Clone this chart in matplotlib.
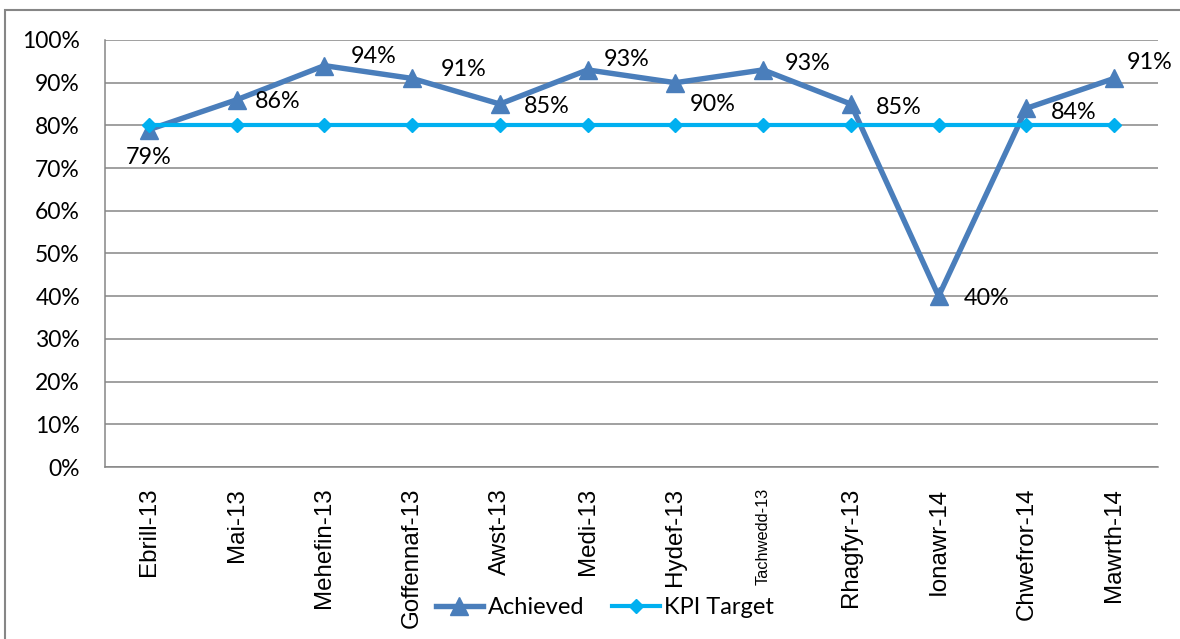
import matplotlib.pyplot as plt
from matplotlib.patches import Rectangle
from matplotlib.ticker import PercentFormatter

months = ["Ebrill-13", "Mai-13", "Mehefin-13", "Goffennaf-13", "Awst-13", "Medi-13",
          "Hydef-13", "Tachwedd-13", "Rhagfyr-13", "Ionawr-14", "Chwefror-14", "Mawrth-14"]
achieved = [79, 86, 94, 91, 85, 93, 90, 93, 85, 40, 84, 91]
kpi_target = [80, 80, 80, 80, 80, 80, 80, 80, 80, 80, 80, 80]

# where each data label sits, in pixels from its point (manually nudged like the original)
label_offsets = [(0, -28), (41, -2), (49, 9), (52, 9), (47, -2), (39, 10),
                 (37, -22), (44, 6), (48, -3), (48, -2), (47, -4), (36, 16)]

grid_col = "#868686"
label_font = "Lato"

fig = plt.figure(figsize=(11.8, 6.39), dpi=100)
ax = fig.add_axes([105 / 1180, 1 - 467 / 639, 1053 / 1180, 427 / 639])

# outer chart frame
fig.patches.append(Rectangle((5 / 1180, -0.1), 1.2, 1 - 10 / 639 + 0.1,
                             transform=fig.transFigure, fill=False,
                             edgecolor=grid_col, linewidth=1.5))

x = list(range(len(months)))
ax.plot(x, achieved, color="#4A7EBB", linewidth=3.9, marker="^", markersize=12.5,
        label="Achieved", zorder=3)
ax.plot(x, kpi_target, color="#00B0F0", linewidth=3.0, marker="D", markersize=7,
        label="KPI Target", zorder=4)

for xi, v, (dx, dy) in zip(x, achieved, label_offsets):
    ax.annotate(f"{v}%", (xi, v), xytext=(dx, dy), textcoords="offset pixels",
                ha="center", va="center", fontsize=16.8, family=label_font, zorder=5)

ax.set_xlim(-0.5, 11.5)
ax.set_ylim(0, 100)
ax.set_yticks(range(0, 101, 10))
ax.yaxis.set_major_formatter(PercentFormatter(decimals=0))
ax.grid(axis="y", color=grid_col, linewidth=1.1)
ax.set_axisbelow(True)

for side in ["top", "right"]:
    ax.spines[side].set_visible(False)
for side in ["left", "bottom"]:
    ax.spines[side].set_color(grid_col)
    ax.spines[side].set_linewidth(1.1)

ax.tick_params(axis="both", length=0)
ax.tick_params(axis="y", pad=18)
ax.tick_params(axis="x", pad=15)
for t in ax.get_yticklabels():
    t.set_family(label_font)
    t.set_fontsize(16.5)

ax.set_xticks(x)
ax.set_xticklabels(months, rotation=90, family="Liberation Sans", fontsize=17.4)
ax.get_xticklabels()[7].set_fontsize(11.8)

leg = ax.legend(loc="center", bbox_to_anchor=(605 / 1180, 1 - 608 / 639),
                bbox_transform=fig.transFigure, ncol=2, frameon=False,
                prop={"family": label_font, "size": 17}, handlelength=2.0,
                handletextpad=0.2, columnspacing=1.2)

fig.savefig("out.png", dpi=100)
